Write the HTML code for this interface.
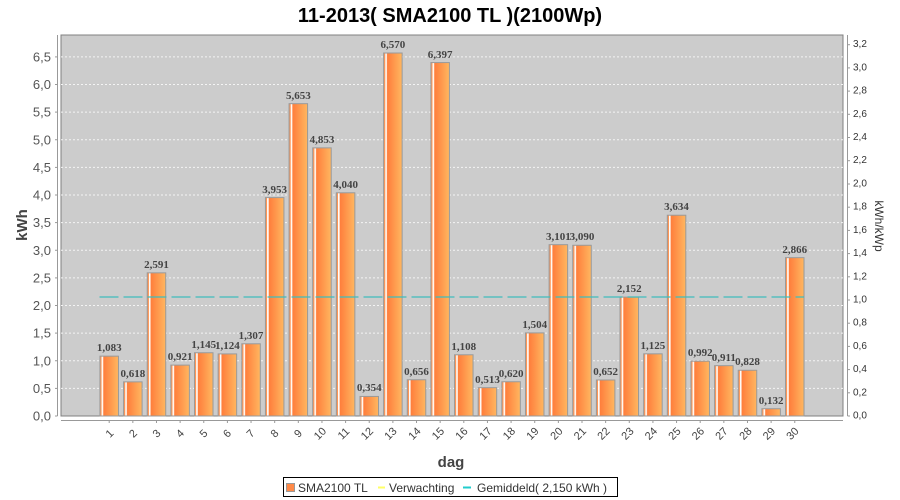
<!DOCTYPE html>
<html>
<head>
<meta charset="utf-8">
<style>
html,body{margin:0;padding:0;background:#fff;}
svg{display:block;}
text{font-family:"Liberation Sans",sans-serif;}
.tl{font-size:13px;fill:#555;text-anchor:end;dominant-baseline:central;}
.tr{font-size:10px;fill:#333;dominant-baseline:central;}
.vl text{font-family:"Liberation Serif",serif;font-weight:bold;font-size:11px;fill:#444;text-anchor:middle;}
.xl{font-size:11px;fill:#444;text-anchor:middle;dominant-baseline:central;}
.lg{font-size:12px;fill:#333;}
</style>
</head>
<body>
<svg width="900" height="500" viewBox="0 0 900 500" xmlns="http://www.w3.org/2000/svg">
<defs>
<linearGradient id="bg" x1="0" y1="0" x2="1" y2="0">
<stop offset="0" stop-color="#ff9656"/>
<stop offset="0.08" stop-color="#ff9656"/>
<stop offset="0.1" stop-color="#ffffff"/>
<stop offset="0.16" stop-color="#fff4ea"/>
<stop offset="0.2" stop-color="#ff7e3c"/>
<stop offset="1" stop-color="#ffb760"/>
</linearGradient>
</defs>

<!-- title -->
<text x="450" y="22" text-anchor="middle" font-size="20" font-weight="bold" fill="#000">11-2013( SMA2100 TL )(2100Wp)</text>

<!-- plot background -->
<rect x="61" y="35" width="782" height="381" fill="#cccccc" stroke="#808080" stroke-width="1"/>

<!-- gridlines -->
<g stroke="#f4f4f4" stroke-width="1" stroke-dasharray="2,2">
<line x1="61" x2="843" y1="388.4" y2="388.4"/>
<line x1="61" x2="843" y1="360.75" y2="360.75"/>
<line x1="61" x2="843" y1="333.1" y2="333.1"/>
<line x1="61" x2="843" y1="305.5" y2="305.5"/>
<line x1="61" x2="843" y1="277.9" y2="277.9"/>
<line x1="61" x2="843" y1="250.25" y2="250.25"/>
<line x1="61" x2="843" y1="222.6" y2="222.6"/>
<line x1="61" x2="843" y1="195" y2="195"/>
<line x1="61" x2="843" y1="167.4" y2="167.4"/>
<line x1="61" x2="843" y1="139.75" y2="139.75"/>
<line x1="61" x2="843" y1="112.1" y2="112.1"/>
<line x1="61" x2="843" y1="84.5" y2="84.5"/>
<line x1="61" x2="843" y1="56.9" y2="56.9"/>
</g>

<!-- bars -->
<g fill="url(#bg)" stroke="#9a9a9a" stroke-width="1">
<rect x="99.95" y="356.16" width="18.5" height="59.84"/>
<rect x="123.59" y="381.86" width="18.5" height="34.14"/>
<rect x="147.23" y="272.85" width="18.5" height="143.15"/>
<rect x="170.87" y="365.11" width="18.5" height="50.89"/>
<rect x="194.51" y="352.74" width="18.5" height="63.26"/>
<rect x="218.15" y="353.90" width="18.5" height="62.10"/>
<rect x="241.79" y="343.79" width="18.5" height="72.21"/>
<rect x="265.43" y="197.60" width="18.5" height="218.40"/>
<rect x="289.07" y="103.67" width="18.5" height="312.33"/>
<rect x="312.71" y="147.87" width="18.5" height="268.13"/>
<rect x="336.35" y="192.79" width="18.5" height="223.21"/>
<rect x="359.99" y="396.44" width="18.5" height="19.56"/>
<rect x="383.63" y="53.01" width="18.5" height="362.99"/>
<rect x="407.27" y="379.76" width="18.5" height="36.24"/>
<rect x="430.91" y="62.57" width="18.5" height="353.43"/>
<rect x="454.55" y="354.78" width="18.5" height="61.22"/>
<rect x="478.19" y="387.66" width="18.5" height="28.34"/>
<rect x="501.83" y="381.74" width="18.5" height="34.26"/>
<rect x="525.47" y="332.90" width="18.5" height="83.10"/>
<rect x="549.11" y="244.67" width="18.5" height="171.33"/>
<rect x="572.75" y="245.28" width="18.5" height="170.72"/>
<rect x="596.39" y="379.98" width="18.5" height="36.02"/>
<rect x="620.03" y="297.10" width="18.5" height="118.90"/>
<rect x="643.67" y="353.84" width="18.5" height="62.16"/>
<rect x="667.31" y="215.22" width="18.5" height="200.78"/>
<rect x="690.95" y="361.19" width="18.5" height="54.81"/>
<rect x="714.59" y="365.67" width="18.5" height="50.33"/>
<rect x="738.23" y="370.25" width="18.5" height="45.75"/>
<rect x="761.87" y="408.71" width="18.5" height="7.29"/>
<rect x="785.51" y="257.65" width="18.5" height="158.35"/>
</g>

<!-- average line -->
<line x1="99.5" x2="804" y1="297" y2="297" stroke="#3fbdbd" stroke-width="1.3" stroke-dasharray="19,5"/>

<!-- value labels -->
<g class="vl">
<text x="109.2" y="351">1,083</text>
<text x="132.84" y="377">0,618</text>
<text x="156.48" y="268">2,591</text>
<text x="180.12" y="360">0,921</text>
<text x="203.76" y="348">1,145</text>
<text x="227.40" y="349">1,124</text>
<text x="251.04" y="339">1,307</text>
<text x="274.68" y="193">3,953</text>
<text x="298.32" y="99">5,653</text>
<text x="321.96" y="143">4,853</text>
<text x="345.60" y="188">4,040</text>
<text x="369.24" y="391">0,354</text>
<text x="392.88" y="48">6,570</text>
<text x="416.52" y="375">0,656</text>
<text x="440.16" y="58">6,397</text>
<text x="463.80" y="350">1,108</text>
<text x="487.44" y="383">0,513</text>
<text x="511.08" y="377">0,620</text>
<text x="534.72" y="328">1,504</text>
<text x="558.36" y="240">3,101</text>
<text x="582.00" y="240">3,090</text>
<text x="605.64" y="375">0,652</text>
<text x="629.28" y="292">2,152</text>
<text x="652.92" y="349">1,125</text>
<text x="676.56" y="210">3,634</text>
<text x="700.20" y="356">0,992</text>
<text x="723.84" y="361">0,911</text>
<text x="747.48" y="365">0,828</text>
<text x="771.12" y="404">0,132</text>
<text x="794.76" y="253">2,866</text>
</g>

<!-- left axis -->
<line x1="57.5" y1="35" x2="57.5" y2="416" stroke="#999" stroke-width="1"/>
<g stroke="#999" stroke-width="1">
<line x1="55" x2="57.5" y1="416" y2="416"/>
<line x1="55" x2="57.5" y1="388.4" y2="388.4"/>
<line x1="55" x2="57.5" y1="360.75" y2="360.75"/>
<line x1="55" x2="57.5" y1="333.1" y2="333.1"/>
<line x1="55" x2="57.5" y1="305.5" y2="305.5"/>
<line x1="55" x2="57.5" y1="277.9" y2="277.9"/>
<line x1="55" x2="57.5" y1="250.25" y2="250.25"/>
<line x1="55" x2="57.5" y1="222.6" y2="222.6"/>
<line x1="55" x2="57.5" y1="195" y2="195"/>
<line x1="55" x2="57.5" y1="167.4" y2="167.4"/>
<line x1="55" x2="57.5" y1="139.75" y2="139.75"/>
<line x1="55" x2="57.5" y1="112.1" y2="112.1"/>
<line x1="55" x2="57.5" y1="84.5" y2="84.5"/>
<line x1="55" x2="57.5" y1="56.9" y2="56.9"/>
</g>
<g class="tl">
<text x="51" y="416">0,0</text>
<text x="51" y="388.4">0,5</text>
<text x="51" y="360.75">1,0</text>
<text x="51" y="333.1">1,5</text>
<text x="51" y="305.5">2,0</text>
<text x="51" y="277.9">2,5</text>
<text x="51" y="250.25">3,0</text>
<text x="51" y="222.6">3,5</text>
<text x="51" y="195">4,0</text>
<text x="51" y="167.4">4,5</text>
<text x="51" y="139.75">5,0</text>
<text x="51" y="112.1">5,5</text>
<text x="51" y="84.5">6,0</text>
<text x="51" y="56.9">6,5</text>
</g>
<text transform="translate(27,225) rotate(-90)" text-anchor="middle" font-size="15" font-weight="bold" fill="#444">kWh</text>

<!-- right axis -->
<line x1="847.5" y1="35" x2="847.5" y2="416" stroke="#999" stroke-width="1"/>
<g stroke="#999" stroke-width="1">
<line x1="847.5" x2="850" y1="416" y2="416"/>
<line x1="847.5" x2="850" y1="392.8" y2="392.8"/>
<line x1="847.5" x2="850" y1="369.6" y2="369.6"/>
<line x1="847.5" x2="850" y1="346.4" y2="346.4"/>
<line x1="847.5" x2="850" y1="323.2" y2="323.2"/>
<line x1="847.5" x2="850" y1="300" y2="300"/>
<line x1="847.5" x2="850" y1="276.8" y2="276.8"/>
<line x1="847.5" x2="850" y1="253.6" y2="253.6"/>
<line x1="847.5" x2="850" y1="230.4" y2="230.4"/>
<line x1="847.5" x2="850" y1="207.2" y2="207.2"/>
<line x1="847.5" x2="850" y1="184" y2="184"/>
<line x1="847.5" x2="850" y1="160.7" y2="160.7"/>
<line x1="847.5" x2="850" y1="137.5" y2="137.5"/>
<line x1="847.5" x2="850" y1="114.3" y2="114.3"/>
<line x1="847.5" x2="850" y1="91.1" y2="91.1"/>
<line x1="847.5" x2="850" y1="67.9" y2="67.9"/>
<line x1="847.5" x2="850" y1="44.7" y2="44.7"/>
</g>
<g class="tr">
<text x="853" y="416">0,0</text>
<text x="853" y="392.8">0,2</text>
<text x="853" y="369.6">0,4</text>
<text x="853" y="346.4">0,6</text>
<text x="853" y="323.2">0,8</text>
<text x="853" y="300">1,0</text>
<text x="853" y="276.8">1,2</text>
<text x="853" y="253.6">1,4</text>
<text x="853" y="230.4">1,6</text>
<text x="853" y="207.2">1,8</text>
<text x="853" y="184">2,0</text>
<text x="853" y="160.7">2,2</text>
<text x="853" y="137.5">2,4</text>
<text x="853" y="114.3">2,6</text>
<text x="853" y="91.1">2,8</text>
<text x="853" y="67.9">3,0</text>
<text x="853" y="44.7">3,2</text>
</g>
<text transform="translate(875,226) rotate(90)" text-anchor="middle" font-size="12" fill="#333">kWh/kWp</text>

<!-- x axis -->
<line x1="61" y1="420.5" x2="843" y2="420.5" stroke="#999" stroke-width="1"/>
<g stroke="#999" stroke-width="1">
<line x1="109.2" x2="109.2" y1="420.5" y2="423"/>
<line x1="132.84" x2="132.84" y1="420.5" y2="423"/>
<line x1="156.48" x2="156.48" y1="420.5" y2="423"/>
<line x1="180.12" x2="180.12" y1="420.5" y2="423"/>
<line x1="203.76" x2="203.76" y1="420.5" y2="423"/>
<line x1="227.40" x2="227.40" y1="420.5" y2="423"/>
<line x1="251.04" x2="251.04" y1="420.5" y2="423"/>
<line x1="274.68" x2="274.68" y1="420.5" y2="423"/>
<line x1="298.32" x2="298.32" y1="420.5" y2="423"/>
<line x1="321.96" x2="321.96" y1="420.5" y2="423"/>
<line x1="345.60" x2="345.60" y1="420.5" y2="423"/>
<line x1="369.24" x2="369.24" y1="420.5" y2="423"/>
<line x1="392.88" x2="392.88" y1="420.5" y2="423"/>
<line x1="416.52" x2="416.52" y1="420.5" y2="423"/>
<line x1="440.16" x2="440.16" y1="420.5" y2="423"/>
<line x1="463.80" x2="463.80" y1="420.5" y2="423"/>
<line x1="487.44" x2="487.44" y1="420.5" y2="423"/>
<line x1="511.08" x2="511.08" y1="420.5" y2="423"/>
<line x1="534.72" x2="534.72" y1="420.5" y2="423"/>
<line x1="558.36" x2="558.36" y1="420.5" y2="423"/>
<line x1="582.00" x2="582.00" y1="420.5" y2="423"/>
<line x1="605.64" x2="605.64" y1="420.5" y2="423"/>
<line x1="629.28" x2="629.28" y1="420.5" y2="423"/>
<line x1="652.92" x2="652.92" y1="420.5" y2="423"/>
<line x1="676.56" x2="676.56" y1="420.5" y2="423"/>
<line x1="700.20" x2="700.20" y1="420.5" y2="423"/>
<line x1="723.84" x2="723.84" y1="420.5" y2="423"/>
<line x1="747.48" x2="747.48" y1="420.5" y2="423"/>
<line x1="771.12" x2="771.12" y1="420.5" y2="423"/>
<line x1="794.76" x2="794.76" y1="420.5" y2="423"/>
</g>
<g class="xl">
<text transform="translate(110,434) rotate(-45)">1</text>
<text transform="translate(133.5,434) rotate(-45)">2</text>
<text transform="translate(157,434) rotate(-45)">3</text>
<text transform="translate(180.5,434) rotate(-45)">4</text>
<text transform="translate(204,434) rotate(-45)">5</text>
<text transform="translate(227.5,434) rotate(-45)">6</text>
<text transform="translate(251,434) rotate(-45)">7</text>
<text transform="translate(275,434) rotate(-45)">8</text>
<text transform="translate(298.5,434) rotate(-45)">9</text>
<text transform="translate(320.5,434) rotate(-45)">10</text>
<text transform="translate(344,434) rotate(-45)">11</text>
<text transform="translate(367.5,434) rotate(-45)">12</text>
<text transform="translate(391,434) rotate(-45)">13</text>
<text transform="translate(415,434) rotate(-45)">14</text>
<text transform="translate(438.5,434) rotate(-45)">15</text>
<text transform="translate(462,434) rotate(-45)">16</text>
<text transform="translate(486,434) rotate(-45)">17</text>
<text transform="translate(509.5,434) rotate(-45)">18</text>
<text transform="translate(533,434) rotate(-45)">19</text>
<text transform="translate(557,434) rotate(-45)">20</text>
<text transform="translate(580.5,434) rotate(-45)">21</text>
<text transform="translate(604,434) rotate(-45)">22</text>
<text transform="translate(628,434) rotate(-45)">23</text>
<text transform="translate(651.5,434) rotate(-45)">24</text>
<text transform="translate(675,434) rotate(-45)">25</text>
<text transform="translate(698.5,434) rotate(-45)">26</text>
<text transform="translate(722,434) rotate(-45)">27</text>
<text transform="translate(746,434) rotate(-45)">28</text>
<text transform="translate(769.5,434) rotate(-45)">29</text>
<text transform="translate(793,434) rotate(-45)">30</text>
</g>
<text x="451" y="467" text-anchor="middle" font-size="15" font-weight="bold" fill="#444">dag</text>

<!-- legend -->
<rect x="283.5" y="477.5" width="334" height="19" fill="#fff" stroke="#000" stroke-width="1"/>
<rect x="286.5" y="483.5" width="8" height="8" fill="#ff8a48" stroke="#999" stroke-width="1"/>
<text class="lg" x="298" y="492">SMA2100 TL</text>
<line x1="378" x2="385" y1="487.5" y2="487.5" stroke="#ffff66" stroke-width="2"/>
<text class="lg" x="389" y="492">Verwachting</text>
<line x1="463" x2="471" y1="487.5" y2="487.5" stroke="#22cccc" stroke-width="2"/>
<text class="lg" x="477" y="492">Gemiddeld( 2,150 kWh )</text>
</svg>
</body>
</html>
